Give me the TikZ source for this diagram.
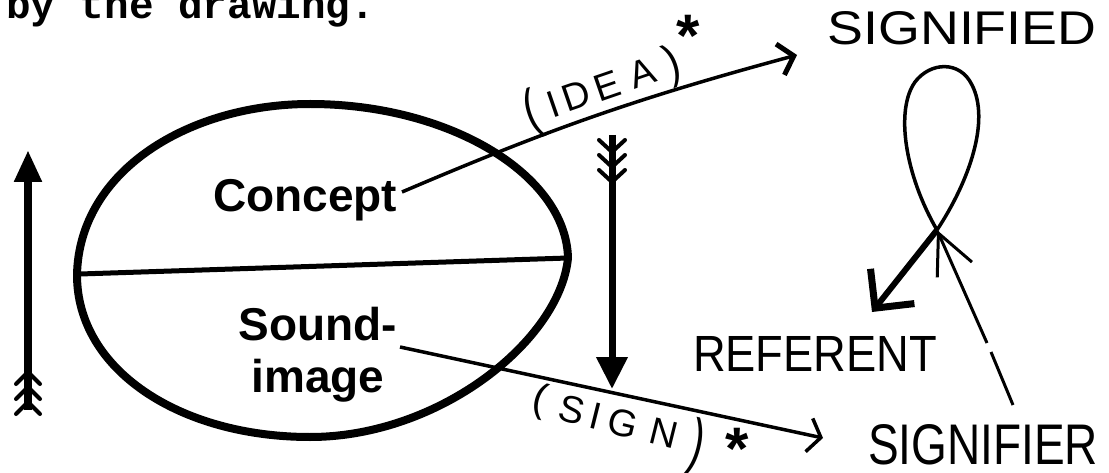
\documentclass[tikz,border=0pt]{standalone}
\usepackage{fontspec}
\usepackage{graphicx}
\usetikzlibrary{arrows.meta}
\newfontfamily\typew{Liberation Mono}
\newfontfamily\lblfont{Liberation Sans}
\newfontfamily\handfont{Liberation Sans}
\begin{document}
\begin{tikzpicture}[x=1pt,y=-1pt,
  rim/.style={line width=8pt, line join=round},
  wordstyle/.style={font=\lblfont\bfseries\fontsize{46}{52}\selectfont, inner sep=0pt},
  handstyle/.style={font=\handfont\fontsize{46}{46}\selectfont, inner sep=0pt},
  tagstyle/.style={font=\handfont\fontsize{38}{38}\selectfont, inner sep=0pt},
  starstyle/.style={font=\lblfont\bfseries\fontsize{60}{60}\selectfont, inner sep=0pt, anchor=north},
  thinarrow/.style={line width=3.5pt},
  fletch/.style={line width=4pt, line cap=round}
]
\useasboundingbox (0,0) rectangle (1109,473);
\fill[white] (0,0) rectangle (1109,473);

% header text (cut by the top edge)
\node[anchor=base west, inner sep=0pt, font=\typew\bfseries\fontsize{41}{41}\selectfont] (hdr) at (6,19) {by the drawing.};

% egg-shaped ellipse
\draw[rim] (77,275) .. controls (79,170) and (190,104) .. (310,104)
  .. controls (450,104) and (566,175) .. (568,258)
  .. controls (560,340) and (440,437) .. (310,437)
  .. controls (180,437) and (77,370) .. cycle;
\coordinate (dl) at (80,274);
\coordinate (dr) at (568,258);
\draw[line width=5pt] (dl) -- (dr);

% labels inside
\node[wordstyle, anchor=base] (concept) at (305,212) {Concept};
\node[wordstyle, anchor=base] (sound) at (318,340) {Sound-};
\node[wordstyle, anchor=base] (image) at (318,392) {image};

% idea arrow
\coordinate (ideaS) at (402,192);
\coordinate (ideaE) at (797,55);
\draw[thinarrow, -{Straight Barb[length=14pt,width=32pt,line width=5pt]}] (ideaS) to[bend left=4] (ideaE);
\node[tagstyle, rotate=19] (idea) at (603,90)
  {\raisebox{-4pt}{\scalebox{1.1}[1.45]{(}}\hspace{10pt}I\hspace{6pt}D\hspace{6pt}E\hspace{12pt}A\hspace{12pt}\raisebox{-2pt}{\scalebox{1.1}[1.25]{)}}};
\node[starstyle] (star1) at (688,15) {*};

% sign arrow
\coordinate (signS) at (400,347);
\coordinate (signE) at (823,438);
\draw[thinarrow, -{Straight Barb[length=12pt,width=34pt,line width=3.5pt]}] (signS) -- (signE);
\node[tagstyle, rotate=-14] (sign) at (617,428)
  {\raisebox{4pt}{\scalebox{1.1}[1.05]{(}}\hspace{14pt}S\hspace{7pt}I\hspace{8pt}G\hspace{14pt}N\hspace{14pt}\raisebox{-10pt}{\scalebox{1.1}[1.7]{)}}};
\node[starstyle] (star2) at (737,428) {*};

% left vertical arrow
\coordinate (lb) at (28,410);
\coordinate (lt) at (28,150);
\draw[line width=8pt, -{Triangle[length=32pt,width=26pt]}] (lb) -- (lt);
\foreach \yy in {372,387,402} \draw[fletch] (16,{\yy+12}) -- (28,\yy) -- (40,{\yy+12});

% middle vertical arrow
\coordinate (mt) at (612,135);
\coordinate (mb) at (612,389);
\draw[line width=7pt, -{Triangle[length=32pt,width=30pt]}] (mt) -- (mb);
\foreach \yy in {140,155,170} \draw[fletch] (599,\yy) -- (612,{\yy+12}) -- (625,\yy);

% loop figure
\coordinate (X) at (937,230);
\draw[line width=3.5pt] (X) .. controls (905,175) and (895,110) .. (915,82)
  .. controls (930,62) and (960,60) .. (972,85)
  .. controls (990,120) and (970,180) .. (X);
\coordinate (ref) at (872,312);
\draw[line width=6pt, -{Straight Barb[length=28pt,width=56pt,line width=7pt]}] (X) -- (ref);
\coordinate (sg1) at (1013,405);
\coordinate (gapA) at (991,352);
\coordinate (gapB) at (987,343);
\draw[line width=3pt] (sg1) -- (gapA);
\draw[line width=3pt, -{Straight Barb[length=40pt,width=38pt,line width=3pt]}] (gapB) -- (X);

% handwritten labels
\node[handstyle] (signified) at (962,28) {\resizebox{269pt}{33pt}{SIGNIFIED}};
\node[handstyle] (referent) at (815,354) {\resizebox{244pt}{35pt}{REFERENT}};
\node[handstyle] (signifier) at (983,445) {\resizebox{230pt}{40pt}{SIGNIFIER}};
\end{tikzpicture}
\end{document}
